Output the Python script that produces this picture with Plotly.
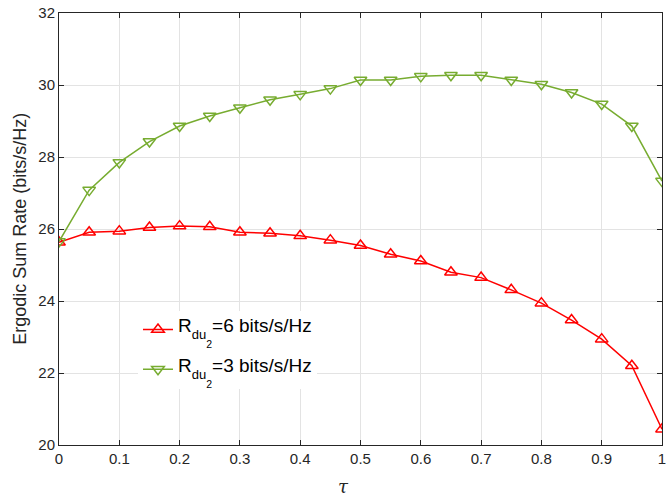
import plotly.graph_objects as go

tau = [0, 0.05, 0.1, 0.15, 0.2, 0.25, 0.3, 0.35, 0.4, 0.45, 0.5,
       0.55, 0.6, 0.65, 0.7, 0.75, 0.8, 0.85, 0.9, 0.95, 1.0]
rate_r6 = [25.63, 25.91, 25.94, 26.04, 26.08, 26.06, 25.91, 25.88, 25.81, 25.69, 25.54,
           25.30, 25.11, 24.80, 24.65, 24.31, 23.94, 23.47, 22.94, 22.20, 20.44]
rate_r3 = [25.65, 27.08, 27.85, 28.43, 28.86, 29.14, 29.37, 29.59, 29.74, 29.90, 30.14,
           30.14, 30.24, 30.27, 30.27, 30.14, 30.02, 29.79, 29.47, 28.86, 27.33]
x_ticks = [0, 0.1, 0.2, 0.3, 0.4, 0.5, 0.6, 0.7, 0.8, 0.9, 1]
x_ticklabels = ["0", "0.1", "0.2", "0.3", "0.4", "0.5", "0.6", "0.7", "0.8", "0.9", "1"]
y_ticks = [20, 22, 24, 26, 28, 30, 32]


def legend_label(value_text):
    return ("<span style=\"baseline-shift:5px\">R</span>"
            "<span style=\"font-size:13px;baseline-shift:-1.5px\">du</span>"
            "<span style=\"font-size:10.5px;baseline-shift:-11px\">2</span>"
            "<span style=\"baseline-shift:5px\">" + value_text + "</span>")


name_r6 = legend_label("=6 bits/s/Hz")
name_r3 = legend_label("=3 bits/s/Hz")

RED = "#FF0000"
GREEN = "#77AC30"
AX = "#262626"
GRID = "#E3E3E3"
FONT = "Liberation Sans, Arial, sans-serif"

fig = go.Figure()
fig.add_trace(go.Scatter(
    x=tau, y=rate_r6, mode="lines+markers", name=name_r6, legendgroup="a",
    line=dict(color=RED, width=1.5),
    marker=dict(symbol="triangle-up-open", size=11, color=RED, line=dict(width=1.5, color=RED)),
))
fig.add_trace(go.Scatter(
    x=tau, y=rate_r3, mode="lines+markers", name=name_r3, legendgroup="b",
    line=dict(color=GREEN, width=1.5),
    marker=dict(symbol="triangle-down-open", size=11, color=GREEN, line=dict(width=1.5, color=GREEN)),
))

fig.update_layout(
    width=667, height=494,
    margin=dict(l=59, r=1, t=13, b=49),
    paper_bgcolor="white", plot_bgcolor="white",
    font=dict(family=FONT, size=15, color=AX),
    showlegend=True,
    legend=dict(
        x=0.131, y=0.311, xanchor="left", yanchor="top",
        bgcolor="white", borderwidth=0,
        font=dict(family=FONT, size=19, color="#000000"),
        tracegroupgap=12,
    ),
    xaxis=dict(
        range=[0, 1], tickvals=x_ticks, ticktext=x_ticklabels,
        showgrid=True, gridcolor=GRID, gridwidth=1,
        showline=True, linecolor=AX, linewidth=1, mirror="ticks",
        ticks="inside", ticklen=5, tickcolor=AX, zeroline=False,
        tickfont=dict(family=FONT, size=15, color=AX),
        ticklabeloverflow="allow",
    ),
    yaxis=dict(
        range=[20, 32], tickvals=y_ticks,
        showgrid=True, gridcolor=GRID, gridwidth=1,
        showline=True, linecolor=AX, linewidth=1, mirror="ticks",
        ticks="inside", ticklen=5, tickcolor=AX, zeroline=False,
        tickfont=dict(family=FONT, size=15, color=AX),
        ticklabeloverflow="allow",
    ),
    shapes=[
        dict(type="rect", xref="paper", yref="paper",
             x0=0.056, x1=0.496, y0=0.120, y1=0.324,
             fillcolor="white", line=dict(width=0), layer="between"),
    ],
    annotations=[
        dict(text="Ergodic Sum Rate (bits/s/Hz)", textangle=-90,
             xref="paper", yref="paper", x=-0.065, y=0.5,
             xanchor="center", yanchor="middle", showarrow=False,
             font=dict(family=FONT, size=18, color=AX)),
        dict(text="<i>τ</i>", xref="paper", yref="paper", x=0.471, y=-0.097,
             xanchor="center", yanchor="middle", showarrow=False,
             font=dict(family="DejaVu Serif, Liberation Serif, serif", size=18, color=AX)),
    ],
)

fig.write_html("out.html", config={"displayModeBar": False},
               post_script="document.body.style.margin='0';document.body.style.overflow='hidden';")
